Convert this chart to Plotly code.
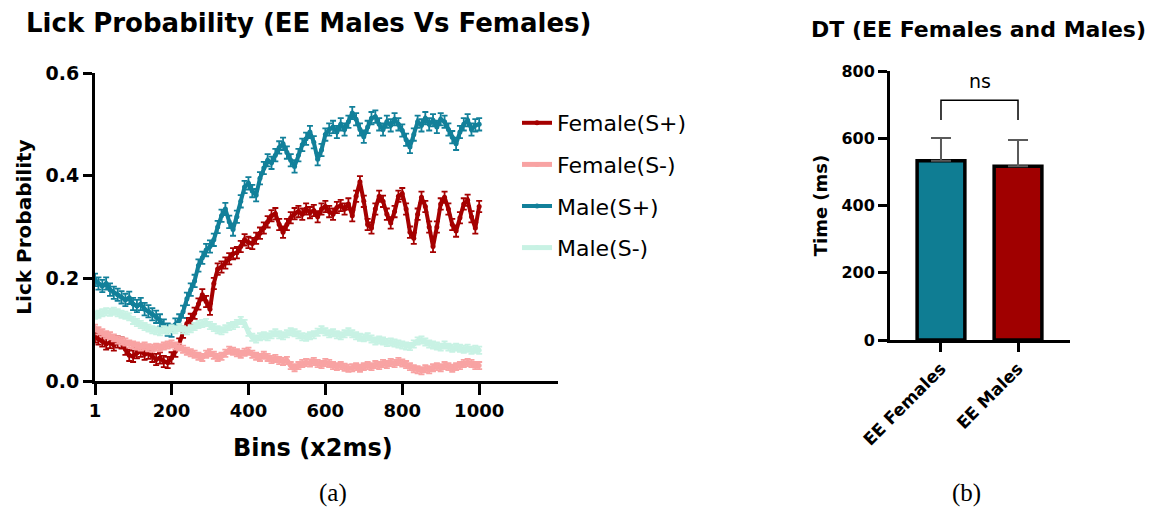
import plotly.graph_objects as go

# ---- Lick probability traces (bins of 2 ms, sampled every 10 bins) ----
bins = [1] + list(range(10, 1001, 10))

male_splus = [
    0.197, 0.190, 0.185, 0.190, 0.178, 0.172, 0.168, 0.163, 0.158, 0.162,
    0.150, 0.146, 0.150, 0.140, 0.136, 0.130, 0.125, 0.118, 0.108, 0.100,
    0.098, 0.110, 0.118, 0.135, 0.160, 0.178, 0.195, 0.225, 0.240, 0.255,
    0.262, 0.275, 0.300, 0.322, 0.335, 0.310, 0.295, 0.320, 0.350, 0.378,
    0.385, 0.370, 0.362, 0.395, 0.415, 0.430, 0.425, 0.440, 0.455, 0.462,
    0.445, 0.430, 0.418, 0.440, 0.460, 0.472, 0.485, 0.465, 0.432, 0.450,
    0.480, 0.490, 0.495, 0.485, 0.500, 0.490, 0.505, 0.522, 0.510, 0.490,
    0.476, 0.495, 0.512, 0.515, 0.500, 0.490, 0.505, 0.498, 0.510, 0.500,
    0.488, 0.470, 0.456, 0.480, 0.505, 0.498, 0.512, 0.500, 0.508, 0.495,
    0.510, 0.505, 0.490, 0.475, 0.462, 0.485, 0.500, 0.508, 0.490, 0.498,
    0.500,
]

female_splus = [
    0.086, 0.082, 0.078, 0.072, 0.075, 0.070, 0.076, 0.074, 0.062, 0.050,
    0.048, 0.055, 0.058, 0.052, 0.054, 0.048, 0.042, 0.045, 0.038, 0.036,
    0.045, 0.058, 0.072, 0.095, 0.112, 0.120, 0.132, 0.150, 0.168, 0.155,
    0.140, 0.190, 0.218, 0.222, 0.230, 0.238, 0.248, 0.250, 0.262, 0.275,
    0.270, 0.268, 0.278, 0.288, 0.298, 0.310, 0.322, 0.326, 0.305, 0.290,
    0.305, 0.318, 0.326, 0.330, 0.325, 0.335, 0.328, 0.332, 0.320, 0.335,
    0.340, 0.330, 0.325, 0.338, 0.342, 0.335, 0.345, 0.322, 0.360, 0.388,
    0.350, 0.305, 0.298, 0.335, 0.360, 0.350, 0.325, 0.308, 0.330, 0.360,
    0.365, 0.335, 0.290, 0.278, 0.325, 0.358, 0.340, 0.300, 0.262, 0.300,
    0.345, 0.358, 0.335, 0.305, 0.292, 0.318, 0.345, 0.352, 0.320, 0.298,
    0.340,
]

female_sminus = [
    0.103, 0.098, 0.094, 0.090, 0.088, 0.084, 0.080, 0.078, 0.076, 0.072,
    0.070, 0.068, 0.066, 0.068, 0.065, 0.064, 0.066, 0.065, 0.068, 0.070,
    0.072, 0.068, 0.066, 0.062, 0.058, 0.055, 0.052, 0.048, 0.046, 0.052,
    0.055, 0.050, 0.046, 0.048, 0.054, 0.060, 0.058, 0.055, 0.052, 0.056,
    0.058, 0.052, 0.048, 0.046, 0.050, 0.046, 0.042, 0.044, 0.040, 0.038,
    0.040, 0.030, 0.026, 0.030, 0.034, 0.036, 0.035, 0.038, 0.034, 0.032,
    0.036, 0.034, 0.030, 0.028, 0.030, 0.027, 0.025, 0.026, 0.028, 0.025,
    0.028, 0.030, 0.028, 0.032, 0.030, 0.034, 0.032, 0.036, 0.034, 0.038,
    0.035, 0.032, 0.028, 0.024, 0.022, 0.020, 0.024, 0.022, 0.026, 0.028,
    0.026, 0.030, 0.028, 0.025, 0.028, 0.030, 0.034, 0.036, 0.034, 0.030,
    0.030,
]

male_sminus = [
    0.128, 0.130, 0.133, 0.135, 0.134, 0.136, 0.133, 0.130, 0.128, 0.125,
    0.118, 0.114, 0.110, 0.106, 0.103, 0.100, 0.098, 0.096, 0.100, 0.098,
    0.102, 0.100, 0.104, 0.100, 0.098, 0.102, 0.106, 0.110, 0.112, 0.114,
    0.108, 0.104, 0.100, 0.098, 0.102, 0.106, 0.108, 0.112, 0.118, 0.112,
    0.095, 0.085, 0.082, 0.086, 0.088, 0.086, 0.090, 0.094, 0.090, 0.088,
    0.092, 0.096, 0.094, 0.090, 0.086, 0.085, 0.088, 0.090, 0.095, 0.100,
    0.096, 0.092, 0.094, 0.090, 0.088, 0.092, 0.096, 0.092, 0.088, 0.085,
    0.084, 0.086, 0.082, 0.078, 0.080, 0.078, 0.075, 0.076, 0.074, 0.072,
    0.070, 0.068, 0.067, 0.072, 0.078, 0.080, 0.076, 0.072, 0.070, 0.068,
    0.066, 0.070, 0.066, 0.064, 0.066, 0.064, 0.062, 0.064, 0.060, 0.062,
    0.060,
]

series_names = ["Female(S+)", "Female(S-)", "Male(S+)", "Male(S-)"]
series_sem = [0.011, 0.007, 0.012, 0.007]
series_widths = [4, 5, 4, 5]
series_colors = ["#A50000", "#F8A3A3", "#12809A", "#C8F2E4"]
x_ticks = [1, 200, 400, 600, 800, 1000]

# ---- Detection time bars ----
groups = ["EE Females", "EE Males"]
dt_mean = [533, 517]
dt_sem = [68, 78]
bar_colors = ["#0F7D93", "#A00000"]

FONT = "DejaVu Sans, Arial, sans-serif"
SERIF = "Liberation Serif, Times New Roman, serif"

W, H = 1157, 515

fig = go.Figure()

series_values = [female_splus, female_sminus, male_splus, male_sminus]
for name, vals, sem, lw, col in zip(series_names, series_values, series_sem,
                                    series_widths, series_colors):
    fig.add_trace(go.Scatter(
        x=bins, y=vals, name=name, mode="lines+markers",
        line=dict(color=col, width=lw),
        marker=dict(color=col, size=5),
        error_y=dict(type="constant", value=sem, color=col, thickness=1.8, width=3),
        legendgroup=name, xaxis="x", yaxis="y",
    ))

fig.add_trace(go.Bar(
    x=groups, y=dt_mean, width=0.62,
    marker=dict(color=bar_colors, line=dict(color="black", width=3.5)),
    error_y=dict(type="data", array=dt_sem, arrayminus=[0, 0], symmetric=False,
                 color="#5a5a5a", thickness=2, width=10),
    showlegend=False, xaxis="x2", yaxis="y2",
))

axis_common = dict(
    showline=True, linecolor="black", linewidth=3, ticks="outside",
    tickcolor="black", tickwidth=3, showgrid=False, zeroline=False,
    automargin=False,
)

fig.update_layout(
    width=W, height=H,
    margin=dict(l=0, r=0, t=0, b=0, autoexpand=False),
    paper_bgcolor="white", plot_bgcolor="white",
    font=dict(family=FONT, color="black"),
    xaxis=dict(axis_common, domain=[95 / W, 558 / W], range=[1, 1205],
               tickvals=x_ticks, ticklen=11, anchor="y",
               tickfont=dict(family=FONT, size=18, color="black", weight="bold")),
    yaxis=dict(axis_common, domain=[1 - 381 / H, 1 - 73 / H], range=[0, 0.6],
               tickvals=[0, 0.2, 0.4, 0.6], tickformat=".1f", ticklen=9,
               anchor="x",
               tickfont=dict(family=FONT, size=19, color="black", weight="bold"),
               title=dict(text="Lick Probability", standoff=9,
                          font=dict(family=FONT, size=20, weight="bold"))),
    xaxis2=dict(axis_common, domain=[890 / W, 1070 / W], range=[-0.662, 1.675],
                ticklen=9, tickangle=-45, anchor="y2",
                tickfont=dict(family=FONT, size=17, color="black", weight="bold")),
    yaxis2=dict(axis_common, domain=[1 - 340 / H, 1 - 71 / H], range=[0, 800],
                tickvals=[0, 200, 400, 600, 800], ticklen=9, anchor="x2",
                tickfont=dict(family=FONT, size=16, color="black", weight="bold"),
                title=dict(text="Time (ms)", standoff=10,
                           font=dict(family=FONT, size=18, weight="bold"))),
    legend=dict(x=517 / W, y=1 - 102 / H, xanchor="left", yanchor="top",
                font=dict(family=FONT, size=22, color="black"),
                tracegroupgap=10, bgcolor="rgba(0,0,0,0)"),
    showlegend=True,
)

# significance bracket between the two bars
fig.add_shape(type="path", xref="x2", yref="y2",
              path="M 0,654 L 0,713 L 1,713 L 1,654",
              line=dict(color="black", width=1.5))

annotations = [
    dict(text="ns", x=0.5, y=732, xref="x2", yref="y2", showarrow=False,
         xanchor="center", yanchor="bottom", font=dict(family=FONT, size=19)),
    dict(text="<b>Lick Probability (EE Males Vs Females)</b>", x=308, y=23,
         xref="paper", yref="paper", showarrow=False,
         font=dict(family=FONT, size=26)),
    dict(text="<b>DT (EE Females and Males)</b>", x=978, y=30,
         xref="paper", yref="paper", showarrow=False,
         font=dict(family=FONT, size=22)),
    dict(text="<b>Bins (x2ms)</b>", x=313, y=448,
         xref="paper", yref="paper", showarrow=False,
         font=dict(family=FONT, size=24)),
    dict(text="(a)", x=333, y=493, xref="paper", yref="paper", showarrow=False,
         font=dict(family=SERIF, size=25)),
    dict(text="(b)", x=966, y=493, xref="paper", yref="paper", showarrow=False,
         font=dict(family=SERIF, size=25)),
]
# pixel anchors -> paper fractions (margins are zero, so paper == page)
for a in annotations:
    if a["xref"] == "paper":
        a["x"] = a["x"] / W
        a["y"] = 1 - a["y"] / H
        a["xanchor"] = "center"
        a["yanchor"] = "middle"
fig.update_layout(annotations=annotations)

fig.write_html("out.html")
